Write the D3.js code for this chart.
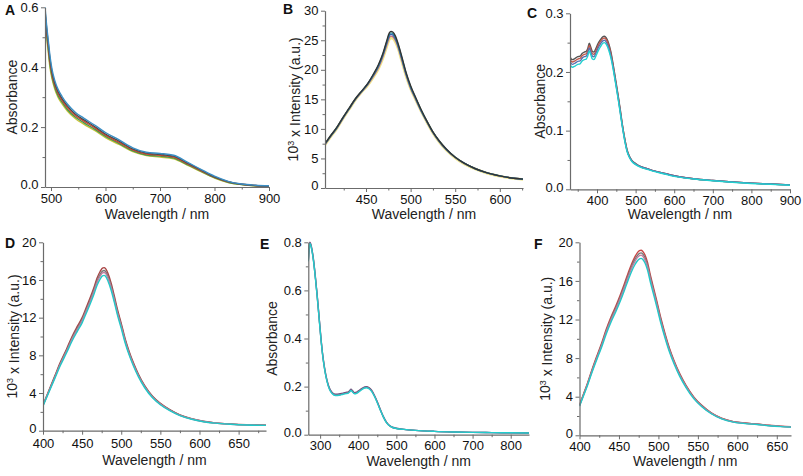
<!DOCTYPE html>
<html><head><meta charset="utf-8">
<script src="https://cdn.jsdelivr.net/npm/d3@7"></script>
<style>
html,body{margin:0;padding:0;background:#fff;}
svg{display:block;font-family:"Liberation Sans",Arial,sans-serif;}
</style></head>
<body>
<svg id="chart" width="803" height="476"></svg>
<script>
// ---------- DATA ----------
// Panel A (absorbance)
const wlA = [489,492,495,498,502,507,513,520,530,545,560,580,600,625,650,675,700,725,750,775,800,825,850,875,900];
const absA1 = [0.60,0.54,0.49,0.44,0.392,0.355,0.326,0.303,0.277,0.249,0.230,0.207,0.182,0.157,0.131,0.116,0.112,0.106,0.083,0.059,0.036,0.019,0.010,0.006,0.004];
const absA2 = [0.59,0.53,0.48,0.43,0.383,0.347,0.319,0.296,0.271,0.243,0.225,0.202,0.177,0.153,0.127,0.113,0.109,0.103,0.080,0.057,0.034,0.018,0.009,0.005,0.003];
const absA3 = [0.58,0.52,0.47,0.42,0.375,0.340,0.312,0.290,0.265,0.238,0.220,0.198,0.173,0.149,0.124,0.110,0.106,0.100,0.078,0.055,0.033,0.017,0.009,0.005,0.003];
const absA4 = [0.57,0.51,0.46,0.41,0.367,0.333,0.305,0.284,0.259,0.233,0.215,0.193,0.169,0.145,0.121,0.107,0.103,0.097,0.075,0.053,0.031,0.016,0.008,0.004,0.002];
const absA5 = [0.56,0.50,0.45,0.40,0.360,0.326,0.299,0.278,0.254,0.228,0.210,0.189,0.165,0.142,0.118,0.105,0.100,0.094,0.073,0.051,0.030,0.015,0.008,0.004,0.002];
const colorsA = ["#c9c23a","#3f9a52","#d2452f","#4a4a4a","#3b8ec4"];

// Panel B (emission)
const wlB = [404,410,417,424,431,438,445,452,458,464,469,473,476,478,480,483,486,490,495,500,506,512,518,525,532,540,550,560,572,585,600,613,626];
const intB1 = [7.5,8.8,10.2,11.9,13.5,15.1,16.4,17.7,19.2,20.9,22.8,24.8,26.2,26.5,26.4,25.7,24.4,22.3,19.5,17.3,15.2,13.2,11.4,9.5,8.0,6.6,5.2,4.2,3.3,2.6,2.05,1.7,1.5];
const intB2 = [7.45,8.75,10.15,11.85,13.45,15.05,16.35,17.65,19.1,20.75,22.65,24.6,25.95,26.25,26.15,25.45,24.2,22.1,19.35,17.15,15.1,13.1,11.35,9.45,7.95,6.55,5.2,4.2,3.3,2.6,2.05,1.7,1.5];
const intB3 = [7.4,8.7,10.1,11.8,13.4,15.0,16.3,17.6,19.0,20.6,22.5,24.4,25.7,26.0,25.9,25.2,24.0,21.9,19.2,17.0,15.0,13.0,11.3,9.4,7.9,6.5,5.2,4.2,3.3,2.6,2.05,1.7,1.5];
const intB4 = [7.35,8.65,10.05,11.75,13.35,14.95,16.25,17.5,18.85,20.4,22.25,24.1,25.4,25.7,25.6,24.95,23.8,21.7,19.05,16.9,14.9,12.95,11.25,9.35,7.85,6.45,5.15,4.15,3.3,2.6,2.0,1.7,1.5];
const intB5 = [7.3,8.6,10.0,11.7,13.3,14.9,16.2,17.4,18.7,20.2,22.0,23.8,25.1,25.4,25.3,24.7,23.6,21.5,18.9,16.8,14.8,12.9,11.2,9.3,7.8,6.4,5.1,4.1,3.25,2.55,2.0,1.65,1.45];
const colorsB = ["#ece489","#c06a86","#3a62b0","#2a8a9a","#333333"];

// Panel C (absorbance)
const wlC = [330,336,343,350,356,362,367,372,376,380,384,388,392,397,403,409,415,419,424,430,436,442,448,454,460,466,472,478,485,492,500,515,530,550,575,600,650,700,750,800,850,900];
const absC1 = [0.226,0.221,0.223,0.226,0.227,0.232,0.234,0.235,0.240,0.249,0.242,0.235,0.234,0.240,0.249,0.255,0.260,0.261,0.258,0.249,0.234,0.212,0.188,0.163,0.137,0.109,0.086,0.067,0.055,0.048,0.044,0.038,0.035,0.031,0.027,0.023,0.018,0.015,0.0125,0.0105,0.009,0.0075];
const absC2 = [0.222,0.217,0.219,0.222,0.223,0.228,0.230,0.231,0.236,0.245,0.238,0.231,0.230,0.236,0.245,0.252,0.257,0.258,0.255,0.246,0.231,0.209,0.185,0.161,0.135,0.108,0.085,0.066,0.054,0.047,0.043,0.038,0.035,0.031,0.027,0.023,0.018,0.015,0.0125,0.0105,0.009,0.0075];
const absC3 = [0.218,0.213,0.215,0.218,0.219,0.224,0.226,0.227,0.232,0.241,0.234,0.227,0.226,0.232,0.241,0.248,0.253,0.254,0.251,0.242,0.227,0.207,0.183,0.159,0.133,0.106,0.083,0.065,0.054,0.047,0.043,0.038,0.035,0.031,0.027,0.023,0.018,0.015,0.0125,0.0105,0.009,0.0075];
const absC4 = [0.213,0.208,0.210,0.213,0.214,0.219,0.221,0.222,0.227,0.236,0.229,0.222,0.221,0.227,0.236,0.243,0.249,0.250,0.247,0.238,0.224,0.204,0.181,0.157,0.131,0.105,0.082,0.064,0.053,0.046,0.042,0.037,0.034,0.030,0.026,0.022,0.0175,0.0145,0.012,0.010,0.0085,0.007];
const colorsC = ["#555555","#c0584a","#5a70b0","#22d0d0"];

// Panel D (emission)
const wlD = [400,407,415,422,430,437,444,450,455,460,465,469,473,476,478,480,483,487,491,495,500,505,510,516,522,530,540,550,562,575,590,605,620,640,660,685];
const intD1 = [2.75,4.17,5.8,7.23,8.65,9.98,11.1,12.0,13.03,14.05,15.17,16.19,16.9,17.26,17.31,17.2,16.7,15.68,14.36,12.93,11.4,9.77,8.45,7.13,6.0,4.78,3.66,2.9,2.24,1.68,1.27,1.0,0.83,0.71,0.63,0.59];
const intD2 = [2.7,4.1,5.7,7.1,8.5,9.8,10.9,11.8,12.8,13.8,14.9,15.9,16.6,16.95,17.0,16.9,16.4,15.4,14.1,12.7,11.2,9.6,8.3,7.0,5.9,4.7,3.6,2.85,2.2,1.65,1.25,0.98,0.82,0.7,0.62,0.58];
const intD3 = [2.67,4.05,5.63,7.02,8.4,9.68,10.77,11.66,12.65,13.63,14.72,15.71,16.4,16.75,16.8,16.7,16.2,15.22,13.93,12.55,11.07,9.49,8.2,6.92,5.83,4.64,3.56,2.82,2.17,1.63,1.24,0.97,0.81,0.69,0.61,0.57];
const intD4 = [2.63,3.98,5.53,6.89,8.25,9.5,10.57,11.45,12.42,13.39,14.45,15.42,16.1,16.44,16.49,16.39,15.9,14.94,13.68,12.32,10.86,9.31,8.05,6.79,5.72,4.56,3.49,2.76,2.13,1.6,1.21,0.95,0.8,0.68,0.6,0.56];
const colorsD = ["#a84444","#777777","#c07ea0","#22c8c8"];

// Panel E (absorbance)
const wlE = [269,271,273,275,278,282,287,292,297,302,307,312,318,325,332,340,350,360,368,374,378,381,385,390,396,403,410,417,422,428,435,442,450,458,466,474,482,490,500,520,550,600,650,700,750,800,848];
const absE1 = [0.725,0.776,0.80,0.795,0.776,0.736,0.666,0.586,0.496,0.405,0.33,0.275,0.227,0.192,0.175,0.168,0.169,0.173,0.176,0.178,0.184,0.189,0.183,0.175,0.177,0.185,0.193,0.199,0.200,0.196,0.185,0.165,0.137,0.105,0.075,0.052,0.038,0.031,0.027,0.022,0.018,0.014,0.0115,0.0098,0.0088,0.0079,0.007];
const absE2 = [0.722,0.773,0.797,0.792,0.772,0.732,0.662,0.582,0.492,0.402,0.327,0.272,0.224,0.189,0.172,0.165,0.166,0.170,0.173,0.175,0.181,0.186,0.180,0.172,0.174,0.182,0.190,0.196,0.197,0.193,0.182,0.163,0.135,0.103,0.074,0.051,0.037,0.030,0.026,0.022,0.018,0.014,0.0115,0.0098,0.0088,0.0079,0.007];
const absE3 = [0.72,0.77,0.795,0.79,0.77,0.73,0.66,0.58,0.49,0.40,0.325,0.27,0.222,0.187,0.170,0.163,0.164,0.168,0.171,0.173,0.179,0.184,0.178,0.170,0.172,0.180,0.188,0.194,0.195,0.191,0.180,0.161,0.133,0.102,0.073,0.050,0.037,0.030,0.026,0.022,0.018,0.014,0.0115,0.0098,0.0088,0.0079,0.007];
const colorsE = ["#6a4a7a","#8a6a8a","#22cccc"];

// Panel F (emission)
const wlF = [400,405,410,416,422,428,434,440,446,452,457,462,466,470,473,476,478,480,483,486,490,494,498,503,508,514,520,527,535,545,555,567,580,595,610,625,640,655,668];
const intF1 = [3.15,4.26,5.38,6.85,8.22,9.54,11.01,12.28,13.4,14.62,15.73,16.9,17.76,18.47,18.88,19.13,19.18,19.08,18.68,17.97,16.54,15.23,13.91,12.18,10.66,9.03,7.71,6.39,5.18,3.96,3.1,2.33,1.78,1.42,1.27,1.17,1.04,0.94,0.89];
const intF2 = [3.1,4.2,5.3,6.75,8.1,9.4,10.85,12.1,13.2,14.4,15.5,16.65,17.5,18.2,18.6,18.85,18.9,18.8,18.4,17.7,16.3,15.0,13.7,12.0,10.5,8.9,7.6,6.3,5.1,3.9,3.05,2.3,1.75,1.4,1.25,1.15,1.02,0.93,0.88];
const intF3 = [3.06,4.15,5.24,6.67,8.0,9.29,10.72,11.95,13.04,14.23,15.31,16.45,17.29,17.98,18.38,18.62,18.67,18.57,18.18,17.49,16.1,14.82,13.54,11.86,10.37,8.79,7.51,6.22,5.04,3.85,3.01,2.27,1.73,1.38,1.24,1.14,1.01,0.92,0.87];
const intF4 = [3.01,4.07,5.14,6.55,7.86,9.12,10.52,11.74,12.8,13.97,15.04,16.15,16.98,17.65,18.04,18.28,18.33,18.24,17.85,17.17,15.81,14.55,13.29,11.64,10.19,8.63,7.37,6.11,4.95,3.78,2.96,2.23,1.7,1.36,1.21,1.12,0.99,0.9,0.85];
const colorsF = ["#c84444","#777777","#c07ea0","#22c8c8"];

// tick labels
const xTicksA = [500,600,700,800,900], yTicksA = [0,0.2,0.4,0.6];
const xTicksB = [450,500,550,600], yTicksB = [0,5,10,15,20,25,30];
const xTicksC = [400,500,600,700,800,900], yTicksC = [0,0.1,0.2,0.3];
const xTicksD = [400,450,500,550,600,650], yTicksD = [0,4,8,12,16,20];
const xTicksE = [300,400,500,600,700,800], yTicksE = [0,0.2,0.4,0.6,0.8];
const xTicksF = [400,450,500,550,600,650], yTicksF = [0,4,8,12,16,20];
const xMinorA = [550,650,750,850], yMinorA = [0.1,0.3,0.5];
const xMinorB = [425,475,525,575,625], yMinorB = [2.5,7.5,12.5,17.5,22.5,27.5];
const xMinorC = [350,450,550,650,750,850], yMinorC = [0.05,0.15,0.25];
const xMinorD = [425,475,525,575,625,675], yMinorD = [2,6,10,14,18];
const xMinorE = [350,450,550,650,750], yMinorE = [0.1,0.3,0.5,0.7];
const xMinorF = [425,475,525,575,625], yMinorF = [2,6,10,14,18];

const xTitle = "Wavelength / nm";
const absTitle = "Absorbance";

// ---------- LAYOUT ----------
const panels = [
  {letter:"A", lx:5, ly:15, box:[45,7.3,269,187], xd:[489,900], yd:[0,0.6], wl:wlA, series:[absA5,absA4,absA3,absA2,absA1], colors:colorsA, xt:xTicksA, yt:yTicksA, xm:xMinorA, ym:yMinorA, fmt:".1f", ytitle:"abs", ytx:17, xty:219, pad:2.5},
  {letter:"B", lx:283, ly:14, box:[325,10.7,523,188], xd:[404,626], yd:[0,30], wl:wlB, series:[intB5,intB4,intB3,intB2,intB1], colors:colorsB, xt:xTicksB, yt:yTicksB, xm:xMinorB, ym:yMinorB, fmt:"d", ytitle:"int", ytx:298, xty:219, pad:2.5},
  {letter:"C", lx:527, ly:18, box:[570,13.3,790,189.3], xd:[330,900], yd:[0,0.3], wl:wlC, series:[absC1,absC2,absC3,absC4], colors:colorsC, xt:xTicksC, yt:yTicksC, xm:xMinorC, ym:yMinorC, fmt:".1f", ytitle:"abs", ytx:545, xty:219, pad:2},
  {letter:"D", lx:5, ly:248, box:[43,242.3,266,430.7], xd:[400,685], yd:[0,20], wl:wlD, series:[intD1,intD2,intD3,intD4], colors:colorsD, xt:xTicksD, yt:yTicksD, xm:xMinorD, ym:yMinorD, fmt:"d", ytitle:"int", ytx:17, xty:465, pad:4},
  {letter:"E", lx:260, ly:249, box:[308.3,242.3,529,434.7], xd:[269,848], yd:[0,0.8], wl:wlE, series:[absE1,absE2,absE3], colors:colorsE, xt:xTicksE, yt:yTicksE, xm:xMinorE, ym:yMinorE, fmt:".1f", ytitle:"abs", ytx:277, xty:466, pad:2},
  {letter:"F", lx:534, ly:249, box:[579.5,242.3,791,435.3], xd:[400,668], yd:[0,20], wl:wlF, series:[intF1,intF2,intF3,intF4], colors:colorsF, xt:xTicksF, yt:yTicksF, xm:xMinorF, ym:yMinorF, fmt:"d", ytitle:"int", ytx:550, xty:466, pad:2.5}
];

const svg = d3.select("#chart");
const axisColor = "#6b6b6b";

panels.forEach(p => {
  const [l,t,r,b] = p.box;
  const x = d3.scaleLinear().domain(p.xd).range([l,r]);
  const y = d3.scaleLinear().domain(p.yd).range([b,t]);
  const g = svg.append("g");

  // curves
  const clipId = "clip"+p.letter;
  svg.append("clipPath").attr("id",clipId).append("rect")
     .attr("x",l).attr("y",t-3).attr("width",r-l).attr("height",b-t+3);
  const lines = g.append("g").attr("clip-path",`url(#${clipId})`);
  const line = d3.line().x((d,i)=>x(p.wl[i])).y(d=>y(d)).curve(d3.curveMonotoneX);
  p.series.forEach((s,i)=>{
    lines.append("path").datum(s).attr("d",line)
      .attr("fill","none").attr("stroke",p.colors[i])
      .attr("stroke-width", (p.letter==="B" && i===0) ? 2.6 : 1.4)
      .attr("stroke-linejoin","round");
  });

  // axes
  const fmt = d3.format(p.fmt);
  g.append("g").attr("transform",`translate(0,${b})`)
    .call(d3.axisBottom(x).tickValues(p.xt).tickFormat(d3.format("d")).tickSize(4).tickSizeOuter(0).tickPadding(p.pad));
  const ya = g.append("g").attr("transform",`translate(${l},0)`)
    .call(d3.axisLeft(y).tickValues(p.yt).tickFormat(fmt).tickSize(4).tickSizeOuter(0).tickPadding(2.5));
  // lift the zero label slightly so it clears the first x label
  ya.selectAll(".tick text").filter(d=>d===0).attr("dy","0.15em");
  g.append("g").attr("transform",`translate(0,${b})`)
    .call(d3.axisBottom(x).tickValues(p.xm).tickFormat("").tickSize(2.5).tickSizeOuter(0))
    .select(".domain").remove();
  g.append("g").attr("transform",`translate(${l},0)`)
    .call(d3.axisLeft(y).tickValues(p.ym).tickFormat("").tickSize(2.5).tickSizeOuter(0))
    .select(".domain").remove();
  g.selectAll(".domain").attr("stroke",axisColor).attr("stroke-width",1.2);
  g.selectAll(".tick line").attr("stroke",axisColor);
  g.selectAll(".tick text").attr("fill","#111").style("font-size","13px").style("font-family","'Liberation Sans',Arial,sans-serif");

  // x title
  g.append("text").attr("x",(l+r)/2).attr("y",p.xty).attr("text-anchor","middle")
    .style("font-size","14px").attr("fill","#222").text(xTitle);

  // y title
  const yt = g.append("text").attr("transform",`translate(${p.ytx},${(t+b)/2}) rotate(-90)`)
    .attr("text-anchor","middle").style("font-size","14px").attr("fill","#222");
  if (p.ytitle==="abs") {
    yt.text(absTitle);
  } else {
    yt.append("tspan").text("10");
    yt.append("tspan").attr("dy","-0.45em").style("font-size","9px").text("3");
    yt.append("tspan").attr("dy","0.45em").text(" x Intensity (a.u.)");
  }

  // panel letter
  svg.append("text").attr("x",p.lx).attr("y",p.ly).style("font-size","14px")
    .style("font-weight","bold").attr("fill","#111").text(p.letter);
});
</script>
</body></html>
